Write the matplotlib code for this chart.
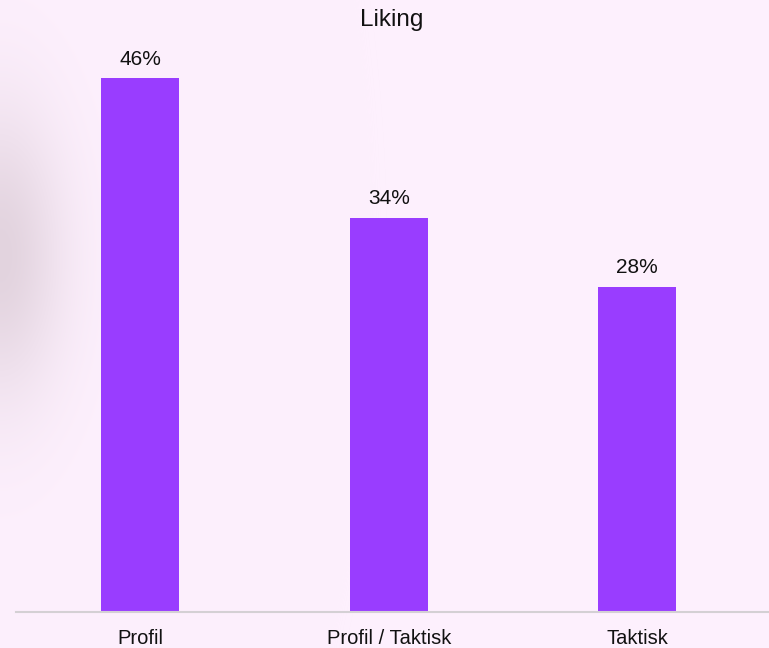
import numpy as np
import matplotlib.pyplot as plt

categories = ["Profil", "Profil / Taktisk", "Taktisk"]
values = [46, 34, 28]
labels = ["46%", "34%", "28%"]
title = "Liking"

bg = "#fdf0fd"
bar_color = "#993dff"

plt.rcParams['font.family'] = ['Liberation Sans', 'DejaVu Sans']

fig = plt.figure(figsize=(7.69, 6.48), dpi=100)
fig.patch.set_facecolor(bg)

# soft grey shadow on the left edge
bgax = fig.add_axes([0, 0, 1, 1], zorder=0)
W, H = 769, 648
xx, yy = np.meshgrid(np.arange(W), np.arange(H))
d = np.sqrt((xx / 80.0) ** 2 + ((yy - 255) / 180.0) ** 2)
shade = np.exp(-d ** 2 * 1.6)
base = np.array([0xfd, 0xf0, 0xfd]) / 255.0
dark = np.array([0xe2, 0xd3, 0xde]) / 255.0
img = base[None, None, :] * (1 - shade[..., None]) + dark[None, None, :] * shade[..., None]
bgax.imshow(img, extent=[0, W, H, 0], aspect='auto', interpolation='bilinear')
bgax.axis('off')

ax = fig.add_axes([16 / W, (H - 612) / H, (W - 16) / W, (612 - 32) / H], zorder=1)
ax.patch.set_alpha(0)
x = np.arange(len(categories))
bars = ax.bar(x, values, width=0.313, color=bar_color)
for b, lab in zip(bars, labels):
    ax.annotate(lab, (b.get_x() + b.get_width() / 2, b.get_height()),
                xytext=(0, 10), textcoords='offset points',
                ha='center', va='baseline', fontsize=15, color='#111111')

ax.set_xlim(-0.5, 2.53)
ax.set_ylim(0, 50)
ax.set_xticks(x)
ax.set_xticklabels(categories, fontsize=14.5, color='#111111')
ax.tick_params(axis='x', length=0, pad=12)
ax.set_yticks([])
for s in ['top', 'right', 'left']:
    ax.spines[s].set_visible(False)
ax.spines['bottom'].set_color('#d4d0d4')
ax.spines['bottom'].set_linewidth(1.5)

fig.text(392 / W, 1 - 26 / H, title, ha='center', va='baseline', fontsize=17.5, color='#111111')

fig.savefig("out.png", dpi=100, facecolor=bg)
